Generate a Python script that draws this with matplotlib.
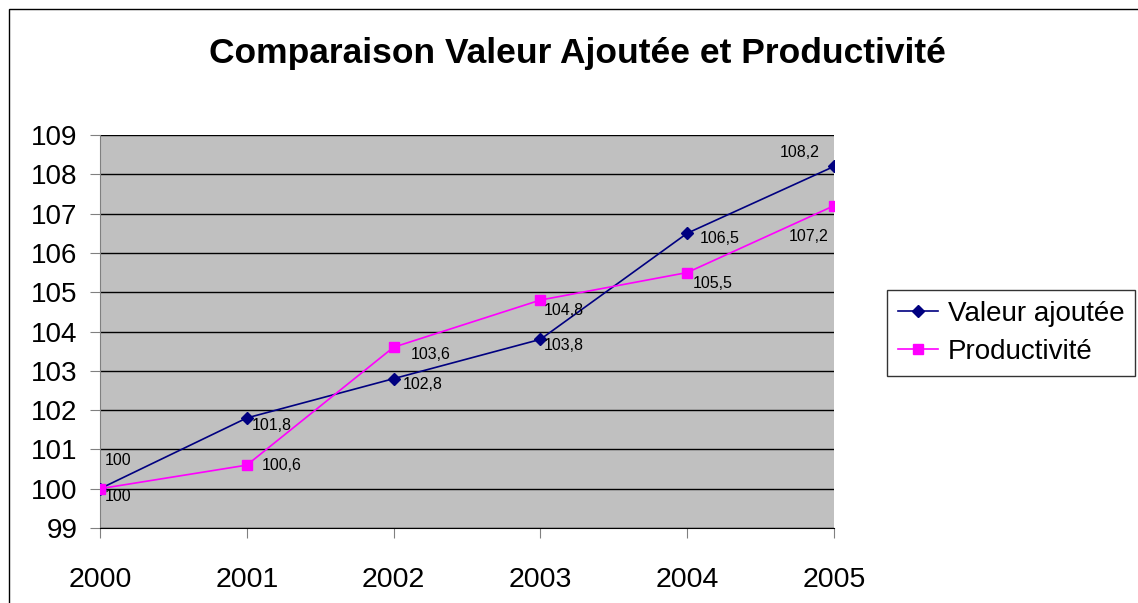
import matplotlib
matplotlib.use("Agg")
import matplotlib.pyplot as plt
from matplotlib.patches import Rectangle

years = ["2000", "2001", "2002", "2003", "2004", "2005"]
valeur_ajoutee = [100, 101.8, 102.8, 103.8, 106.5, 108.2]
productivite = [100, 100.6, 103.6, 104.8, 105.5, 107.2]
yticks = list(range(99, 110))

plt.rcParams['font.family'] = ['Liberation Sans', 'DejaVu Sans']

W, H = 1138, 603
fig = plt.figure(figsize=(W / 100, H / 100), dpi=100)
fig.patch.set_facecolor('white')

# outer chart border (cut at right/bottom)
fig.add_artist(Rectangle((9 / W, -0.1), 1.2, (H - 9) / H + 0.1, transform=fig.transFigure,
                         fill=False, edgecolor='black', linewidth=1.0))

ax = fig.add_axes([100 / W, (H - 528) / H, 734 / W, 393 / H])
ax.set_facecolor('#C0C0C0')
x = list(range(len(years)))

ax.plot(x, valeur_ajoutee, color='#000080', marker='D', markersize=6, linewidth=1.2,
        label='Valeur ajoutée', zorder=3)
ax.plot(x, productivite, color='#FF00FF', marker='s', markersize=7, linewidth=1.2,
        label='Productivité', zorder=3)

ax.set_xlim(0, len(years) - 1)
ax.set_ylim(yticks[0], yticks[-1])
ax.set_yticks(yticks)
ax.set_xticks(x)
ax.set_xticklabels(years)
ax.grid(axis='y', color='black', linewidth=1.0)
ax.set_axisbelow(True)
for s in ['top', 'right']:
    ax.spines[s].set_visible(False)
ax.spines['left'].set_color('#808080')
ax.spines['bottom'].set_color('black')
ax.tick_params(axis='y', direction='out', length=7.2, color='#808080', labelsize=20, pad=9)
ax.tick_params(axis='x', direction='out', length=7.2, color='#808080', labelsize=20.5, pad=21)

def fmt(v):
    s = ('%g' % v).replace('.', ',')
    return s

# label offsets in pixels (dx, dy), horizontal alignment
va_off = [((5, 28), 'left'), ((5, -8), 'left'), ((9, -6), 'left'), ((3, -6), 'left'),
          ((13, -5), 'left'), ((-14, 14), 'right')]
pr_off = [((5, -8), 'left'), ((15, 0), 'left'), ((17, -7), 'left'), ((3, -10), 'left'),
          ((6, -11), 'left'), ((-5, -31), 'right')]
for i in x:
    (dx, dy), ha = va_off[i]
    ax.annotate(fmt(valeur_ajoutee[i]), (i, valeur_ajoutee[i]), xytext=(dx, dy),
                textcoords='offset pixels', ha=ha, va='center', fontsize=11.5, zorder=4)
    (dx, dy), ha = pr_off[i]
    ax.annotate(fmt(productivite[i]), (i, productivite[i]), xytext=(dx, dy),
                textcoords='offset pixels', ha=ha, va='center', fontsize=11.5, zorder=4)

fig.text(577 / W, 1 - 53 / H, 'Comparaison Valeur Ajoutée et Productivité',
         ha='center', va='center', fontsize=25.5, fontweight='bold')

leg = fig.legend(loc='upper left', bbox_to_anchor=(887 / W, 1 - 290 / H),
                 bbox_transform=fig.transFigure, fontsize=20, frameon=True,
                 fancybox=False, edgecolor='black', handlelength=1.45,
                 handletextpad=0.36, borderpad=0.38, labelspacing=0.45, borderaxespad=0)
leg.get_frame().set_linewidth(1.0)

fig.savefig('out.png', dpi=100)
